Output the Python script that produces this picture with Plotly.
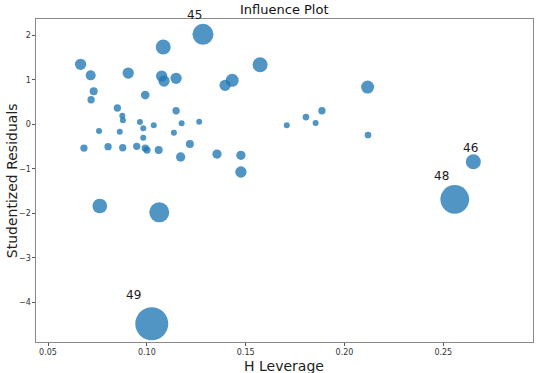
import plotly.graph_objects as go

# H leverage (x), studentized residuals (y), bubble diameter (Cook's distance)
leverage = [0.0665, 0.0716, 0.0731, 0.0718, 0.0906, 0.1083, 0.1284, 0.1075, 0.1087, 0.1148,
            0.0992, 0.0851, 0.0876, 0.0879, 0.0758, 0.0863, 0.0965, 0.0982, 0.1035, 0.0982,
            0.0682, 0.0804, 0.0878, 0.0949, 0.0992, 0.1001, 0.1060, 0.1148, 0.1176, 0.1137,
            0.1265, 0.1218, 0.1171, 0.1355, 0.1476, 0.1476, 0.1396, 0.1432, 0.1573, 0.2117,
            0.1708, 0.1805, 0.1854, 0.1886, 0.2119, 0.2652, 0.2558, 0.0762, 0.1063, 0.1025]
resid = [1.351, 1.104, 0.744, 0.555, 1.156, 1.741, 2.026, 1.088, 0.976, 1.037,
         0.661, 0.369, 0.196, 0.092, -0.148, -0.164, 0.054, -0.088, -0.020, -0.299,
         -0.531, -0.501, -0.524, -0.492, -0.531, -0.576, -0.576, 0.308, 0.025, -0.187,
         0.061, -0.441, -0.733, -0.666, -0.695, -1.070, 0.879, 0.992, 1.342, 0.841,
         -0.020, 0.166, 0.031, 0.308, -0.238, -0.839, -1.684, -1.835, -1.977, -4.482]
bubble = [11.3, 10, 8, 7.3, 11.3, 15, 21, 11.3, 11.3, 11.3,
          8.7, 7.3, 6, 6, 6, 6, 6, 6, 6, 6,
          7.3, 7.3, 7.3, 7.3, 7.3, 7.3, 8, 7.3, 6, 6,
          6, 8, 9.3, 9.3, 9.3, 11.3, 11.3, 13, 15, 13,
          6, 6.7, 6, 7.3, 6.7, 15, 28.7, 14.7, 20, 33]
# labelled observations: index into arrays, label text
label_idx = [6, 45, 46, 49]
label_text = ["45", "46", "48", "49"]
label_dx = [-8, -3, -13, -18]
label_dy = [19, 14, 23, 29]

xticks = [0.05, 0.10, 0.15, 0.20, 0.25]
yticks = [-4, -3, -2, -1, 0, 1, 2]

fig = go.Figure()
fig.add_trace(go.Scatter(
    x=leverage, y=resid, mode="markers",
    marker=dict(size=bubble, sizemode="diameter", color="rgba(31,119,180,0.78)",
                opacity=1, line=dict(width=0)),
    showlegend=False, hoverinfo="x+y"))

for i, t, dx, dy in zip(label_idx, label_text, label_dx, label_dy):
    fig.add_annotation(x=leverage[i], y=resid[i], text=t, showarrow=False,
                       xshift=dx, yshift=dy,
                       font=dict(family="DejaVu Sans", size=12, color="#1a1a1a"))

axis_common = dict(showgrid=False, zeroline=False, showline=True, mirror=True,
                   linecolor="#8a8a8a", linewidth=1.2, ticks="outside", ticklen=2.5,
                   tickcolor="#555", automargin=False,
                   tickfont=dict(family="DejaVu Sans", size=8, color="#333"))

fig.update_xaxes(range=[0.04393, 0.29538], tickvals=xticks,
                 ticktext=["%.2f" % v for v in xticks], **axis_common)
fig.update_yaxes(range=[-4.893, 2.371], tickvals=yticks,
                 ticktext=[("\u2212%d" % -v) if v < 0 else str(v) for v in yticks],
                 **axis_common)

title_font = dict(family="DejaVu Sans", size=14, color="#222")
fig.add_annotation(text="H Leverage", xref="paper", yref="paper", x=0.498, y=-0.073,
                   xanchor="center", yanchor="middle", showarrow=False, font=title_font)
fig.add_annotation(text="Studentized Residuals", xref="paper", yref="paper", x=-0.049, y=0.5,
                   xanchor="center", yanchor="middle", textangle=-90, showarrow=False,
                   font=title_font)
fig.add_annotation(text="Influence Plot", xref="paper", yref="paper", x=0.5, y=1.028,
                   xanchor="center", yanchor="middle", showarrow=False,
                   font=dict(family="DejaVu Sans", size=13, color="#111"))

fig.update_layout(
    width=540, height=373,
    margin=dict(l=36, r=7, t=19, b=31, autoexpand=False),
    paper_bgcolor="white", plot_bgcolor="white",
)

fig.write_html("out.html", config={"displayModeBar": False},
               post_script="document.body.style.margin='0';")
